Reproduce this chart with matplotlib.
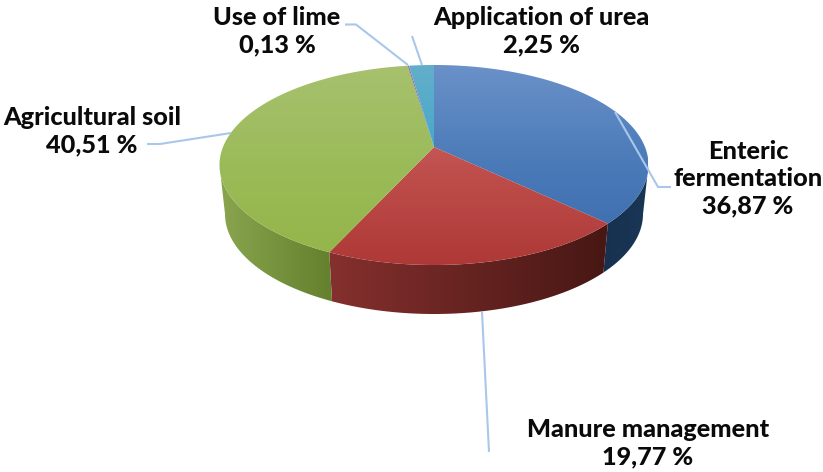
import matplotlib
matplotlib.use("Agg")
import matplotlib.pyplot as plt
from matplotlib.colors import LinearSegmentedColormap
from matplotlib.patches import Polygon
import numpy as np

labels = ["Enteric\nfermentation", "Manure management", "Agricultural soil", "Use of lime", "Application of urea"]
values = [36.87, 19.77, 40.51, 0.13, 2.25]

# top face gradient (upper, middle, lower), side gradient (left, right)
top_cols = [("#6a91c8", "#4a7ab8", "#3a6aab"), ("#d07f7c", "#c0504d", "#ae3937"),
            ("#a7c16e", "#9bbb59", "#93b547"), ("#8f78ab", "#8064a2", "#7a5f9c"),
            ("#62aecb", "#43a8c6", "#38a5c6")]
side_cols = [("#17304f", "#1a3656"), ("#85302e", "#471714"), ("#8aa54e", "#64802e"),
             ("#5a4575", "#5a4575"), ("#2a7c96", "#2a7c96")]

# pie geometry in pixels
cx, cy, rx, ry = 434, 165, 214.5, 100
apex_y = 147
cy2, rx2 = 214, 209


def rim(t):
    # ray from the apex, cut with the top ellipse
    dx = rx * np.sin(t)
    dy = -ry * np.cos(t)
    oy = apex_y - cy
    a = (dx / rx) ** 2 + (dy / ry) ** 2
    b = 2 * oy * dy / ry ** 2
    c = (oy / ry) ** 2 - 1
    s = (-b + np.sqrt(b ** 2 - 4 * a * c)) / (2 * a)
    return cx + s * dx, apex_y + s * dy


def fill(ax, pts, cols, extent, vertical):
    cmap = LinearSegmentedColormap.from_list("g", cols)
    grad = np.linspace(0, 1, 256)
    grad = grad.reshape(-1, 1) if vertical else grad.reshape(1, -1)
    im = ax.imshow(grad, cmap=cmap, extent=extent, aspect="auto", origin="upper",
                   interpolation="bilinear", zorder=ax_z[0])
    patch = Polygon(pts, closed=True, transform=ax.transData, facecolor="none", edgecolor="none")
    ax.add_patch(patch)
    im.set_clip_path(patch)
    ax_z[0] += 1


ax_z = [2]
fig = plt.figure(figsize=(8.23, 4.72), dpi=100)
ax = fig.add_axes([0, 0, 1, 1])

edges = np.cumsum([0] + values) / sum(values) * 2 * np.pi

# sides first, only the part that faces the viewer
for i in range(len(values)):
    t = np.linspace(edges[i], edges[i + 1], 300)
    x, y = rim(t)
    keep = y >= cy
    if keep.sum() < 2:
        continue
    x, y = x[keep], y[keep]
    x2 = cx + (x - cx) * rx2 / rx
    y2 = cy2 + (y - cy)
    pts = np.r_[np.c_[x, y], np.c_[x2, y2][::-1]]
    fill(ax, pts, side_cols[i], (pts[:, 0].min(), pts[:, 0].max(), 320, 60), False)

# top faces
for i in range(len(values)):
    t = np.linspace(edges[i], edges[i + 1], 300)
    x, y = rim(t)
    pts = np.r_[[[cx, apex_y]], np.c_[x, y]]
    fill(ax, pts, top_cols[i], (cx - rx, cx + rx, cy + ry, cy - ry), True)

# leader lines
line_col = "#a9c7ea"
leaders = [
    ([615, 658, 671], [112, 187, 187]),
    ([482, 489], [312, 452]),
    ([147, 160, 231], [144, 144, 133]),
    ([345, 356, 408], [24.5, 24.5, 65]),
    ([412, 422], [36, 65]),
]
for lx, ly in leaders:
    ax.plot(lx, ly, color=line_col, lw=1.5, zorder=30, solid_capstyle="butt")

# labels
centres = [(748, 179), (648, 443), (92, 131), (277, 31), (541, 31)]
for name, v, (tx, ty) in zip(labels, values, centres):
    txt = name + "\n" + f"{v:.2f}".replace(".", ",") + " %"
    ax.text(tx, ty, txt, ha="center", va="center", family="Lato", weight=900,
            fontsize=18.2, color="#0a0a0a", linespacing=1.22, zorder=40)

ax.set_xlim(0, 823)
ax.set_ylim(472, 0)
ax.axis("off")
fig.savefig("out.png", dpi=100)
